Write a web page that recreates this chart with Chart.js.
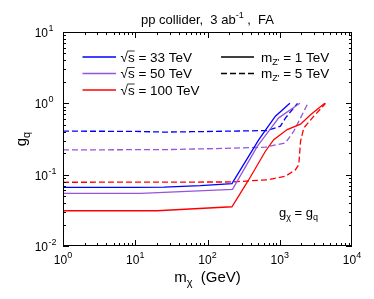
<!DOCTYPE html>
<html>
<head>
<meta charset="utf-8">
<script src="https://cdn.jsdelivr.net/npm/chart.js@4.4.1/dist/chart.umd.min.js"></script>
<style>
  html, body { margin: 0; padding: 0; background: #fff; }
</style>
</head>
<body>
<canvas id="myChart" width="374" height="299"></canvas>
<script>
// m_chi (GeV) and g_q: <sqrt s>_<m_Z'>
const mChi_33_1 = [1, 10, 25, 80, 218, 511, 668, 871, 1380];
const gq_33_1 = [0.0665, 0.0665, 0.067, 0.070, 0.075, 0.307, 0.453, 0.661, 1.0];
const mChi_50_1 = [1, 12, 222, 486, 703, 968, 1900];
const gq_50_1 = [0.0548, 0.0548, 0.0624, 0.247, 0.407, 0.626, 1.0];
const mChi_100_1 = [1, 20, 218, 371, 633, 826, 1267, 1940, 2668, 4200];
const gq_100_1 = [0.0312, 0.0312, 0.0355, 0.0843, 0.213, 0.310, 0.429, 0.51, 0.69, 1.0];
const mChi_33_5 = [1, 10, 25, 60, 668, 1022, 1203, 1760];
const gq_33_5 = [0.407, 0.405, 0.395, 0.40, 0.415, 0.479, 0.625, 1.0];
const mChi_50_5 = [1, 30, 220, 633, 1200, 1565, 2047, 2450];
const gq_50_5 = [0.222, 0.225, 0.235, 0.243, 0.279, 0.407, 0.696, 1.0];
const mChi_100_5 = [1, 218, 703, 1200, 1652, 1836, 1940, 2155, 2966, 4315];
const gq_100_5 = [0.0782, 0.079, 0.0851, 0.095, 0.1175, 0.138, 0.294, 0.453, 0.661, 1.0];

const energyLabels = ["33", "50", "100"];
const zMassLabels = ["1", "5"];
const xTickExps = [0, 1, 2, 3, 4];
const yTickExps = [-2, -1, 0, 1];

const FONT = '"Liberation Sans", Arial, Helvetica, sans-serif';
const BLUE = "#0000ff";
const PURPLE = "#9455dc";
const RED = "#ff0000";
const DASH = [6, 3];

function pts(ms, gs) {
    return ms.map((m, i) => ({ x: m, y: gs[i] }));
}

// draw a run of text pieces, each with its own size and vertical shift
function rich(ctx, parts, x, y, align) {
    let w = 0;
    parts.forEach(p => {
        ctx.font = p.size + "px " + FONT;
        p.w = ctx.measureText(p.t).width;
        w += p.w;
    });
    let cx = align === "center" ? x - w / 2 : align === "right" ? x - w : x;
    ctx.textAlign = "left";
    parts.forEach(p => {
        ctx.font = p.size + "px " + FONT;
        ctx.fillText(p.t, cx, y + (p.dy || 0));
        cx += p.w;
    });
}

const decorations = {
    id: "decorations",
    afterDatasetsDraw(chart) {
        const { ctx, chartArea: a, scales: { x, y } } = chart;
        ctx.save();
        ctx.strokeStyle = "#000";
        ctx.fillStyle = "#000";
        ctx.lineWidth = 1;
        ctx.setLineDash([]);
        ctx.strokeRect(a.left + 0.5, a.top + 0.5, a.right - a.left - 1, a.bottom - a.top - 1);

        // inward ticks on all four sides
        ctx.beginPath();
        for (let e = xTickExps[0]; e < xTickExps[xTickExps.length - 1]; e++) {
            for (let k = 1; k <= 9; k++) {
                const px = Math.round(x.getPixelForValue(k * 10 ** e)) + 0.5;
                const len = k === 1 ? 6 : 3;
                ctx.moveTo(px, a.bottom); ctx.lineTo(px, a.bottom - len);
                ctx.moveTo(px, a.top); ctx.lineTo(px, a.top + len);
            }
        }
        for (let e = yTickExps[0]; e < yTickExps[yTickExps.length - 1]; e++) {
            for (let k = 1; k <= 9; k++) {
                const py = Math.round(y.getPixelForValue(k * 10 ** e)) + 0.5;
                const len = k === 1 ? 6 : 3;
                ctx.moveTo(a.left, py); ctx.lineTo(a.left + len, py);
                ctx.moveTo(a.right, py); ctx.lineTo(a.right - len, py);
            }
        }
        ctx.stroke();

        // tick labels
        ctx.textBaseline = "alphabetic";
        xTickExps.forEach(e => {
            const px = x.getPixelForValue(10 ** e);
            rich(ctx, [{ t: "10", size: 12 }, { t: String(e), size: 9, dy: -6 }], px, a.bottom + 18, "center");
        });
        yTickExps.forEach(e => {
            const py = y.getPixelForValue(10 ** e);
            ctx.font = "12px " + FONT;
            ctx.textAlign = "right";
            ctx.fillText("10", a.left - 15, py + 5);
            ctx.textAlign = "left";
            ctx.font = "9px " + FONT;
            ctx.fillText(String(e), a.left - 14.5, py - 1);
        });

        const cx = (a.left + a.right) / 2;
        // title
        rich(ctx, [
            { t: "pp collider,  3 ab", size: 13 },
            { t: "-1", size: 9, dy: -6 },
            { t: " ,  FA", size: 13 }
        ], cx, 24, "center");

        // x axis title
        rich(ctx, [
            { t: "m", size: 15 },
            { t: "\u03c7", size: 11, dy: 4 },
            { t: "  (GeV)", size: 15 }
        ], cx, a.bottom + 36, "center");

        // y axis title
        ctx.save();
        ctx.translate(26, (a.top + a.bottom) / 2);
        ctx.rotate(-Math.PI / 2);
        rich(ctx, [{ t: "g", size: 15 }, { t: "q", size: 11, dy: 4 }], 0, 0, "center");
        ctx.restore();

        // legend
        const ds = chart.data.datasets;
        const rowY = [a.top + 25, a.top + 41.5, a.top + 58];
        ctx.lineWidth = 1.3;
        energyLabels.forEach((lab, i) => {
            ctx.strokeStyle = ds[i].borderColor;
            ctx.setLineDash([]);
            ctx.beginPath();
            ctx.moveTo(a.left + 19.5, rowY[i]); ctx.lineTo(a.left + 53, rowY[i]);
            ctx.stroke();
            const tx = a.left + 57.5;
            const ty = rowY[i] + 4.5;
            ctx.font = "13.5px " + FONT;
            ctx.textAlign = "left";
            ctx.fillText("\u221a", tx, ty);
            const rw = ctx.measureText("\u221a").width;
            const sw = ctx.measureText("s").width;
            ctx.fillText("s = " + lab + " TeV", tx + rw, ty);
            ctx.strokeStyle = "#000";
            ctx.lineWidth = 0.8;
            ctx.beginPath();
            ctx.moveTo(tx + rw - 0.5, ty - 10.5); ctx.lineTo(tx + rw + sw, ty - 10.5);
            ctx.stroke();
            ctx.lineWidth = 1.3;
        });
        zMassLabels.forEach((lab, i) => {
            ctx.strokeStyle = "#000";
            ctx.setLineDash(i === 0 ? [] : DASH);
            ctx.beginPath();
            ctx.moveTo(a.left + 158, rowY[i]); ctx.lineTo(a.left + 191, rowY[i]);
            ctx.stroke();
            rich(ctx, [
                { t: "m", size: 13.5 },
                { t: "Z'", size: 9, dy: 3 },
                { t: " = " + lab + " TeV", size: 13.5 }
            ], a.left + 198, rowY[i] + 4.5, "left");
        });
        ctx.setLineDash([]);

        // coupling note
        rich(ctx, [
            { t: "g", size: 13 }, { t: "\u03c7", size: 9, dy: 3 },
            { t: " = g", size: 13 }, { t: "q", size: 9, dy: 3 }
        ], a.left + 216, a.top + 185, "left");
        ctx.restore();
    }
};

new Chart(document.getElementById("myChart").getContext("2d"), {
    type: "line",
    data: {
        datasets: [
            { label: "33 TeV, 1 TeV", data: pts(mChi_33_1, gq_33_1), borderColor: BLUE },
            { label: "50 TeV, 1 TeV", data: pts(mChi_50_1, gq_50_1), borderColor: PURPLE },
            { label: "100 TeV, 1 TeV", data: pts(mChi_100_1, gq_100_1), borderColor: RED },
            { label: "33 TeV, 5 TeV", data: pts(mChi_33_5, gq_33_5), borderColor: BLUE, borderDash: DASH },
            { label: "50 TeV, 5 TeV", data: pts(mChi_50_5, gq_50_5), borderColor: PURPLE, borderDash: DASH },
            { label: "100 TeV, 5 TeV", data: pts(mChi_100_5, gq_100_5), borderColor: RED, borderDash: DASH }
        ]
    },
    options: {
        responsive: false,
        animation: false,
        layout: { padding: { left: 63, right: 22, top: 32, bottom: 53 } },
        elements: {
            point: { radius: 0 },
            line: { borderWidth: 1.3, tension: 0, fill: false }
        },
        plugins: {
            legend: { display: false },
            title: { display: false },
            tooltip: { enabled: false }
        },
        scales: {
            x: { type: "logarithmic", min: 1, max: 10000, display: false },
            y: { type: "logarithmic", min: 0.01, max: 10, display: false }
        }
    },
    plugins: [decorations]
});
</script>
</body>
</html>
